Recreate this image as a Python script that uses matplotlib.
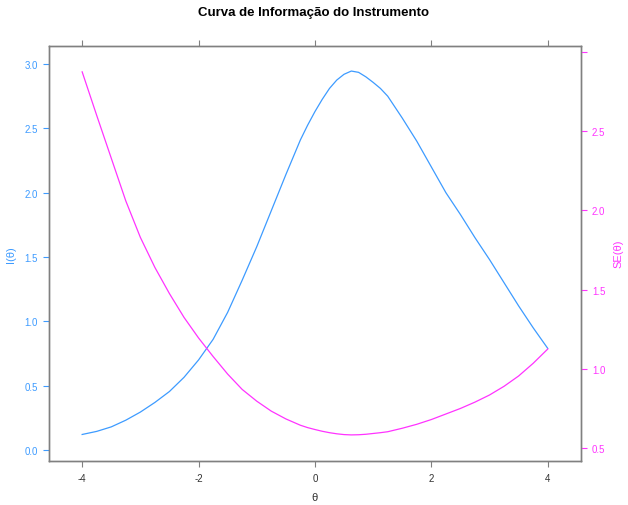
import matplotlib
matplotlib.use('Agg')
import matplotlib.pyplot as plt

plt.rcParams['font.family'] = ['Liberation Sans', 'DejaVu Sans']

# valores
theta = [-4.0, -3.75, -3.5, -3.25, -3.0, -2.75, -2.5, -2.25, -2.0, -1.75, -1.5,
         -1.25, -1.0, -0.75, -0.5, -0.25, -0.125, 0.0, 0.125, 0.25, 0.375, 0.5,
         0.625, 0.75, 0.875, 1.0, 1.125, 1.25, 1.5, 1.75, 2.0, 2.25, 2.5, 2.75,
         3.0, 3.25, 3.5, 3.75, 4.0]
info = [0.121, 0.145, 0.18, 0.232, 0.295, 0.37, 0.455, 0.565, 0.70, 0.86, 1.07,
        1.32, 1.58, 1.86, 2.14, 2.41, 2.525, 2.63, 2.725, 2.81, 2.875, 2.92,
        2.945, 2.935, 2.90, 2.857, 2.81, 2.75, 2.58, 2.40, 2.20, 2.00, 1.83, 1.65,
        1.48, 1.30, 1.12, 0.95, 0.79]
se = [2.875, 2.60, 2.33, 2.06, 1.83, 1.64, 1.475, 1.325, 1.195, 1.078, 0.967,
      0.870, 0.796, 0.733, 0.684, 0.644, 0.629, 0.617, 0.606, 0.597, 0.590, 0.585,
      0.583, 0.584, 0.587, 0.592, 0.597, 0.603, 0.625, 0.65, 0.68, 0.715, 0.75, 0.79,
      0.835, 0.89, 0.955, 1.035, 1.125]

x_ticks = [-4, -2, 0, 2, 4]
info_ticks = [0.0, 0.5, 1.0, 1.5, 2.0, 2.5, 3.0]
se_ticks = [0.5, 1.0, 1.5, 2.0, 2.5, 3.0]
se_labels = ['0.5', '1.0', '1.5', '2.0', '2.5', '']

blue = '#3d9bff'
pink = '#ff33ff'
frame = '#808080'

fig = plt.figure(figsize=(6.28, 5.06), dpi=100)
ax = fig.add_axes([0.078, 0.0875, 0.847, 0.8202])
ax2 = ax.twinx()

ax.plot(theta, info, color=blue, lw=0.9)
ax2.plot(theta, se, color=pink, lw=0.9)

ax.set_xlim(-4.57, 4.57)
ax.set_ylim(-0.083, 3.142)
ax2.set_ylim(0.42, 3.04)

ax.set_xticks(x_ticks)
ax.set_xticklabels([str(t) for t in x_ticks])
ax.set_yticks(info_ticks)
ax.set_yticklabels(['%.1f' % v for v in info_ticks])
ax2.set_yticks(se_ticks)
ax2.set_yticklabels(se_labels)

ax.tick_params(axis='x', direction='out', length=4, width=0.8, colors='#333333',
               labelsize=7, pad=5, top=True, labeltop=False)
ax.tick_params(axis='x', which='both', color=frame)
ax.tick_params(axis='y', direction='out', length=4, width=0.8, color=blue,
               labelcolor=blue, labelsize=7, pad=4)
ax2.tick_params(axis='y', direction='out', length=4, width=0.8, color=pink,
                labelcolor=pink, labelsize=7, pad=4)

for a in (ax, ax2):
    for s in a.spines.values():
        s.set_color(frame)
        s.set_linewidth(1.0)

ax.set_xlabel('θ', fontsize=8, color='#333333', labelpad=6)
ax.set_ylabel('I(θ)', fontsize=8, color=blue, labelpad=6)
ax2.set_ylabel('SE(θ)', fontsize=8, color=pink, labelpad=6)

fig.text(0.5, 0.975, 'Curva de Informação do Instrumento', ha='center', va='center',
         fontsize=9.5, fontweight='bold')

fig.savefig('out.png', dpi=100)
plt.close()
